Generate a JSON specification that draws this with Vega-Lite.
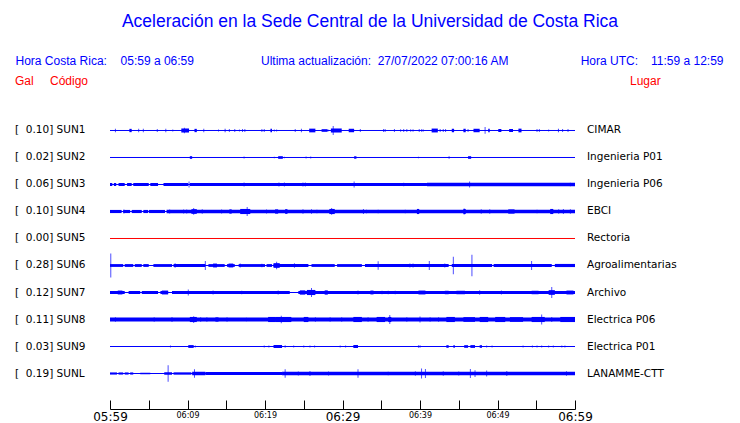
{
  "$schema": "https://vega.github.io/schema/vega-lite/v6.json",
  "width": 465,
  "height": 409,
  "autosize": {"type": "none"},
  "padding": {"left": 110, "top": 0, "right": 165, "bottom": 14},
  "background": "white",
  "config": {"view": {"stroke": null}, "font": "DejaVu Sans"},
  "resolve": {"axis": {"x": "independent", "y": "independent"}},
  "datasets": {
    "st": [
      {"s": "SUN1", "n": 1, "g": 0.10, "lugar": "CIMAR"},
      {"s": "SUN2", "n": 2, "g": 0.02, "lugar": "Ingenieria P01"},
      {"s": "SUN3", "n": 3, "g": 0.06, "lugar": "Ingenieria P06"},
      {"s": "SUN4", "n": 4, "g": 0.10, "lugar": "EBCI"},
      {"s": "SUN5", "n": 5, "g": 0.00, "lugar": "Rectoria"},
      {"s": "SUN6", "n": 6, "g": 0.28, "lugar": "Agroalimentarias"},
      {"s": "SUN7", "n": 7, "g": 0.12, "lugar": "Archivo"},
      {"s": "SUN8", "n": 8, "g": 0.11, "lugar": "Electrica P06"},
      {"s": "SUN9", "n": 9, "g": 0.03, "lugar": "Electrica P01"},
      {"s": "SUNL", "n": 10, "g": 0.19, "lugar": "LANAMME-CTT"}
    ],
    "bnd": [
      {"s": "SUN1", "t0": 0, "t1": 60, "a": 0},
      {"s": "SUN2", "t0": 0, "t1": 60, "a": 0},
      {"s": "SUN3", "t0": 0, "t1": 60, "a": 0},
      {"s": "SUN4", "t0": 0, "t1": 60, "a": 0},
      {"s": "SUN5", "t0": 0, "t1": 60, "a": 0},
      {"s": "SUN6", "t0": 0, "t1": 60, "a": 0},
      {"s": "SUN7", "t0": 0, "t1": 60, "a": 0},
      {"s": "SUN8", "t0": 0, "t1": 60, "a": 0},
      {"s": "SUN9", "t0": 0, "t1": 60, "a": 0},
      {"s": "SUNL", "t0": 0, "t1": 60, "a": 0},
      {"s": "SUN1", "t0": 2.5, "t1": 2.8, "a": 0.028},
      {"s": "SUN1", "t0": 9.2, "t1": 10.2, "a": 0.037},
      {"s": "SUN1", "t0": 10.9, "t1": 11.2, "a": 0.028},
      {"s": "SUN1", "t0": 14.8, "t1": 14.9, "a": 0.028},
      {"s": "SUN1", "t0": 20.7, "t1": 20.9, "a": 0.028},
      {"s": "SUN1", "t0": 25.7, "t1": 26.5, "a": 0.033},
      {"s": "SUN1", "t0": 27.3, "t1": 28.0, "a": 0.02},
      {"s": "SUN1", "t0": 28.5, "t1": 29.9, "a": 0.037},
      {"s": "SUN1", "t0": 30.8, "t1": 31.5, "a": 0.03},
      {"s": "SUN1", "t0": 41.5, "t1": 42.3, "a": 0.035},
      {"s": "SUN1", "t0": 44.1, "t1": 44.4, "a": 0.03},
      {"s": "SUN1", "t0": 45.6, "t1": 45.9, "a": 0.03},
      {"s": "SUN1", "t0": 46.9, "t1": 47.7, "a": 0.03},
      {"s": "SUN1", "t0": 48.8, "t1": 49.0, "a": 0.03},
      {"s": "SUN1", "t0": 50.1, "t1": 50.5, "a": 0.025},
      {"s": "SUN1", "t0": 51.5, "t1": 52.0, "a": 0.025},
      {"s": "SUN1", "t0": 52.7, "t1": 53.1, "a": 0.033},
      {"s": "SUN1", "t0": 57.8, "t1": 57.9, "a": 0.028},
      {"s": "SUN2", "t0": 10.3, "t1": 10.6, "a": 0.02},
      {"s": "SUN2", "t0": 21.7, "t1": 22.3, "a": 0.02},
      {"s": "SUN2", "t0": 31.5, "t1": 31.8, "a": 0.018},
      {"s": "SUN2", "t0": 43.7, "t1": 43.8, "a": 0.018},
      {"s": "SUN2", "t0": 46.2, "t1": 46.6, "a": 0.02},
      {"s": "SUN3", "t0": 0, "t1": 0.3, "a": 0.024},
      {"s": "SUN3", "t0": 0.5, "t1": 0.8, "a": 0.024},
      {"s": "SUN3", "t0": 1.1, "t1": 1.9, "a": 0.024},
      {"s": "SUN3", "t0": 2.2, "t1": 2.8, "a": 0.024},
      {"s": "SUN3", "t0": 3.0, "t1": 5.0, "a": 0.024},
      {"s": "SUN3", "t0": 5.2, "t1": 6.2, "a": 0.024},
      {"s": "SUN3", "t0": 6.9, "t1": 10.1, "a": 0.024},
      {"s": "SUN3", "t0": 10.3, "t1": 40.9, "a": 0.026},
      {"s": "SUN3", "t0": 40.9, "t1": 60, "a": 0.03},
      {"s": "SUN4", "t0": 0, "t1": 1.5, "a": 0.026},
      {"s": "SUN4", "t0": 1.7, "t1": 2.6, "a": 0.026},
      {"s": "SUN4", "t0": 2.8, "t1": 4.1, "a": 0.026},
      {"s": "SUN4", "t0": 4.3, "t1": 4.9, "a": 0.026},
      {"s": "SUN4", "t0": 5.0, "t1": 7.1, "a": 0.026},
      {"s": "SUN4", "t0": 7.3, "t1": 60, "a": 0.028},
      {"s": "SUN4", "t0": 10.5, "t1": 11.2, "a": 0.045},
      {"s": "SUN4", "t0": 15.4, "t1": 15.7, "a": 0.04},
      {"s": "SUN4", "t0": 16.8, "t1": 18.1, "a": 0.05},
      {"s": "SUN4", "t0": 21.3, "t1": 21.7, "a": 0.04},
      {"s": "SUN4", "t0": 22.6, "t1": 22.9, "a": 0.045},
      {"s": "SUN4", "t0": 28.3, "t1": 29.0, "a": 0.05},
      {"s": "SUN4", "t0": 39.6, "t1": 39.9, "a": 0.05},
      {"s": "SUN4", "t0": 45.6, "t1": 45.9, "a": 0.05},
      {"s": "SUN4", "t0": 51.4, "t1": 52.2, "a": 0.04},
      {"s": "SUN4", "t0": 56.8, "t1": 57.2, "a": 0.05},
      {"s": "SUN6", "t0": 0, "t1": 1.7, "a": 0.022},
      {"s": "SUN6", "t0": 1.9, "t1": 3.0, "a": 0.022},
      {"s": "SUN6", "t0": 3.2, "t1": 4.1, "a": 0.022},
      {"s": "SUN6", "t0": 4.3, "t1": 5.0, "a": 0.022},
      {"s": "SUN6", "t0": 5.6, "t1": 8.0, "a": 0.022},
      {"s": "SUN6", "t0": 8.2, "t1": 12.3, "a": 0.022},
      {"s": "SUN6", "t0": 12.7, "t1": 14.8, "a": 0.022},
      {"s": "SUN6", "t0": 15.1, "t1": 16.1, "a": 0.022},
      {"s": "SUN6", "t0": 16.6, "t1": 20.0, "a": 0.022},
      {"s": "SUN6", "t0": 20.2, "t1": 20.9, "a": 0.022},
      {"s": "SUN6", "t0": 21.1, "t1": 25.6, "a": 0.022},
      {"s": "SUN6", "t0": 26.0, "t1": 29.0, "a": 0.022},
      {"s": "SUN6", "t0": 29.3, "t1": 32.5, "a": 0.022},
      {"s": "SUN6", "t0": 32.9, "t1": 43.7, "a": 0.022},
      {"s": "SUN6", "t0": 44.1, "t1": 49.3, "a": 0.022},
      {"s": "SUN6", "t0": 49.5, "t1": 57.0, "a": 0.022},
      {"s": "SUN6", "t0": 57.4, "t1": 60, "a": 0.026},
      {"s": "SUN6", "t0": 13.3, "t1": 13.8, "a": 0.035},
      {"s": "SUN6", "t0": 15.3, "t1": 15.9, "a": 0.035},
      {"s": "SUN6", "t0": 21.1, "t1": 21.9, "a": 0.045},
      {"s": "SUN7", "t0": 0, "t1": 1.9, "a": 0.024},
      {"s": "SUN7", "t0": 2.4, "t1": 3.9, "a": 0.024},
      {"s": "SUN7", "t0": 4.1, "t1": 6.2, "a": 0.024},
      {"s": "SUN7", "t0": 6.5, "t1": 7.5, "a": 0.024},
      {"s": "SUN7", "t0": 8.0, "t1": 23.2, "a": 0.024},
      {"s": "SUN7", "t0": 24.3, "t1": 60, "a": 0.026},
      {"s": "SUN7", "t0": 1.0, "t1": 1.6, "a": 0.035},
      {"s": "SUN7", "t0": 6.7, "t1": 7.5, "a": 0.035},
      {"s": "SUN7", "t0": 24.5, "t1": 25.2, "a": 0.04},
      {"s": "SUN7", "t0": 25.4, "t1": 26.5, "a": 0.05},
      {"s": "SUN7", "t0": 27.7, "t1": 28.1, "a": 0.04},
      {"s": "SUN7", "t0": 33.6, "t1": 34.0, "a": 0.035},
      {"s": "SUN7", "t0": 39.8, "t1": 40.7, "a": 0.035},
      {"s": "SUN7", "t0": 43.2, "t1": 43.7, "a": 0.03},
      {"s": "SUN7", "t0": 44.7, "t1": 45.8, "a": 0.03},
      {"s": "SUN7", "t0": 54.4, "t1": 55.3, "a": 0.03},
      {"s": "SUN7", "t0": 56.6, "t1": 57.4, "a": 0.045},
      {"s": "SUN7", "t0": 58.9, "t1": 59.8, "a": 0.035},
      {"s": "SUN8", "t0": 0, "t1": 60, "a": 0.037},
      {"s": "SUN8", "t0": 10.3, "t1": 11.2, "a": 0.05},
      {"s": "SUN8", "t0": 13.6, "t1": 14.0, "a": 0.04},
      {"s": "SUN8", "t0": 20.4, "t1": 21.3, "a": 0.05},
      {"s": "SUN8", "t0": 21.3, "t1": 23.4, "a": 0.05},
      {"s": "SUN8", "t0": 25.0, "t1": 25.6, "a": 0.05},
      {"s": "SUN8", "t0": 31.4, "t1": 32.5, "a": 0.05},
      {"s": "SUN8", "t0": 34.4, "t1": 35.5, "a": 0.05},
      {"s": "SUN8", "t0": 35.9, "t1": 36.3, "a": 0.05},
      {"s": "SUN8", "t0": 43.4, "t1": 44.5, "a": 0.05},
      {"s": "SUN8", "t0": 45.6, "t1": 47.1, "a": 0.045},
      {"s": "SUN8", "t0": 47.7, "t1": 48.8, "a": 0.05},
      {"s": "SUN8", "t0": 49.7, "t1": 51.0, "a": 0.05},
      {"s": "SUN8", "t0": 51.6, "t1": 53.3, "a": 0.045},
      {"s": "SUN8", "t0": 54.4, "t1": 56.1, "a": 0.05},
      {"s": "SUN8", "t0": 58.1, "t1": 60, "a": 0.05},
      {"s": "SUN9", "t0": 10.1, "t1": 10.8, "a": 0.022},
      {"s": "SUN9", "t0": 21.1, "t1": 22.2, "a": 0.025},
      {"s": "SUN9", "t0": 31.4, "t1": 32.0, "a": 0.025},
      {"s": "SUN9", "t0": 43.4, "t1": 43.7, "a": 0.02},
      {"s": "SUN9", "t0": 44.3, "t1": 44.5, "a": 0.02},
      {"s": "SUN9", "t0": 45.7, "t1": 46.2, "a": 0.02},
      {"s": "SUN9", "t0": 46.5, "t1": 47.1, "a": 0.022},
      {"s": "SUN9", "t0": 47.7, "t1": 48.0, "a": 0.02},
      {"s": "SUNL", "t0": 0, "t1": 0.9, "a": 0.014},
      {"s": "SUNL", "t0": 1.1, "t1": 1.7, "a": 0.014},
      {"s": "SUNL", "t0": 1.9, "t1": 2.4, "a": 0.014},
      {"s": "SUNL", "t0": 2.6, "t1": 3.0, "a": 0.014},
      {"s": "SUNL", "t0": 3.9, "t1": 5.2, "a": 0.006},
      {"s": "SUNL", "t0": 7.0, "t1": 8.0, "a": 0.018},
      {"s": "SUNL", "t0": 8.2, "t1": 10.5, "a": 0.016},
      {"s": "SUNL", "t0": 10.6, "t1": 12.3, "a": 0.03},
      {"s": "SUNL", "t0": 12.3, "t1": 22.2, "a": 0.026},
      {"s": "SUNL", "t0": 22.2, "t1": 60, "a": 0.028}
    ],
    "spk": [
      {"s": "SUN1", "t": 0.7, "a": 0.028}, {"s": "SUN1", "t": 3.7, "a": 0.028}, {"s": "SUN1", "t": 4.3, "a": 0.028},
      {"s": "SUN1", "t": 6.1, "a": 0.022}, {"s": "SUN1", "t": 7.2, "a": 0.028}, {"s": "SUN1", "t": 8.1, "a": 0.012},
      {"s": "SUN1", "t": 9.6, "a": 0.053}, {"s": "SUN1", "t": 12.1, "a": 0.028}, {"s": "SUN1", "t": 14.0, "a": 0.012},
      {"s": "SUN1", "t": 15.4, "a": 0.022}, {"s": "SUN1", "t": 16.1, "a": 0.022}, {"s": "SUN1", "t": 16.7, "a": 0.012},
      {"s": "SUN1", "t": 17.1, "a": 0.022}, {"s": "SUN1", "t": 17.4, "a": 0.022}, {"s": "SUN1", "t": 19.6, "a": 0.022},
      {"s": "SUN1", "t": 19.9, "a": 0.022}, {"s": "SUN1", "t": 21.2, "a": 0.012}, {"s": "SUN1", "t": 21.5, "a": 0.012},
      {"s": "SUN1", "t": 23.9, "a": 0.022}, {"s": "SUN1", "t": 24.7, "a": 0.028}, {"s": "SUN1", "t": 28.1, "a": 0.022},
      {"s": "SUN1", "t": 28.8, "a": 0.10}, {"s": "SUN1", "t": 32.3, "a": 0.022}, {"s": "SUN1", "t": 35.3, "a": 0.022},
      {"s": "SUN1", "t": 35.5, "a": 0.022}, {"s": "SUN1", "t": 36.7, "a": 0.022}, {"s": "SUN1", "t": 37.5, "a": 0.016},
      {"s": "SUN1", "t": 37.9, "a": 0.022}, {"s": "SUN1", "t": 38.3, "a": 0.022}, {"s": "SUN1", "t": 38.8, "a": 0.016},
      {"s": "SUN1", "t": 39.1, "a": 0.016}, {"s": "SUN1", "t": 39.9, "a": 0.022}, {"s": "SUN1", "t": 40.2, "a": 0.016},
      {"s": "SUN1", "t": 40.4, "a": 0.016}, {"s": "SUN1", "t": 42.6, "a": 0.022}, {"s": "SUN1", "t": 43.0, "a": 0.022},
      {"s": "SUN1", "t": 43.3, "a": 0.022}, {"s": "SUN1", "t": 46.2, "a": 0.022}, {"s": "SUN1", "t": 48.4, "a": 0.07},
      {"s": "SUN1", "t": 55.1, "a": 0.022}, {"s": "SUN1", "t": 55.4, "a": 0.022}, {"s": "SUN1", "t": 56.6, "a": 0.012},
      {"s": "SUN1", "t": 58.4, "a": 0.022}, {"s": "SUN1", "t": 59.1, "a": 0.022},
      {"s": "SUN2", "t": 17.3, "a": 0.01}, {"s": "SUN2", "t": 21.2, "a": 0.006}, {"s": "SUN2", "t": 22.5, "a": 0.008},
      {"s": "SUN2", "t": 25.3, "a": 0.01}, {"s": "SUN2", "t": 25.9, "a": 0.01}, {"s": "SUN2", "t": 39.8, "a": 0.008},
      {"s": "SUN3", "t": 10.2, "a": 0.06}, {"s": "SUN3", "t": 17.3, "a": 0.035}, {"s": "SUN3", "t": 21.8, "a": 0.035},
      {"s": "SUN3", "t": 22.5, "a": 0.035}, {"s": "SUN3", "t": 24.9, "a": 0.035}, {"s": "SUN3", "t": 25.2, "a": 0.035},
      {"s": "SUN3", "t": 31.5, "a": 0.06}, {"s": "SUN3", "t": 37.9, "a": 0.03}, {"s": "SUN3", "t": 46.4, "a": 0.06},
      {"s": "SUN3", "t": 59.4, "a": 0.03},
      {"s": "SUN4", "t": 1.8, "a": 0.035}, {"s": "SUN4", "t": 7.7, "a": 0.035}, {"s": "SUN4", "t": 9.5, "a": 0.035},
      {"s": "SUN4", "t": 9.9, "a": 0.035}, {"s": "SUN4", "t": 10.8, "a": 0.07}, {"s": "SUN4", "t": 11.9, "a": 0.045},
      {"s": "SUN4", "t": 14.4, "a": 0.035}, {"s": "SUN4", "t": 17.7, "a": 0.10}, {"s": "SUN4", "t": 20.2, "a": 0.035},
      {"s": "SUN4", "t": 24.9, "a": 0.045}, {"s": "SUN4", "t": 26.0, "a": 0.04}, {"s": "SUN4", "t": 26.7, "a": 0.03},
      {"s": "SUN4", "t": 28.6, "a": 0.07}, {"s": "SUN4", "t": 32.7, "a": 0.05}, {"s": "SUN4", "t": 33.1, "a": 0.03},
      {"s": "SUN4", "t": 34.6, "a": 0.03}, {"s": "SUN4", "t": 36.8, "a": 0.025}, {"s": "SUN4", "t": 38.1, "a": 0.03},
      {"s": "SUN4", "t": 45.7, "a": 0.06}, {"s": "SUN4", "t": 47.9, "a": 0.045}, {"s": "SUN4", "t": 49.0, "a": 0.04},
      {"s": "SUN4", "t": 55.1, "a": 0.03}, {"s": "SUN4", "t": 57.9, "a": 0.04}, {"s": "SUN4", "t": 58.5, "a": 0.05},
      {"s": "SUN4", "t": 59.4, "a": 0.04},
      {"s": "SUN6", "t": 0.1, "a": 0.28}, {"s": "SUN6", "t": 8.4, "a": 0.04}, {"s": "SUN6", "t": 12.3, "a": 0.10},
      {"s": "SUN6", "t": 16.8, "a": 0.035}, {"s": "SUN6", "t": 19.6, "a": 0.03}, {"s": "SUN6", "t": 21.5, "a": 0.08},
      {"s": "SUN6", "t": 23.8, "a": 0.04}, {"s": "SUN6", "t": 34.6, "a": 0.09}, {"s": "SUN6", "t": 38.7, "a": 0.035},
      {"s": "SUN6", "t": 39.1, "a": 0.035}, {"s": "SUN6", "t": 41.2, "a": 0.10}, {"s": "SUN6", "t": 43.2, "a": 0.035},
      {"s": "SUN6", "t": 44.3, "a": 0.20}, {"s": "SUN6", "t": 46.7, "a": 0.25}, {"s": "SUN6", "t": 54.4, "a": 0.10},
      {"s": "SUN7", "t": 10.1, "a": 0.06}, {"s": "SUN7", "t": 13.3, "a": 0.035}, {"s": "SUN7", "t": 17.0, "a": 0.03},
      {"s": "SUN7", "t": 21.7, "a": 0.035}, {"s": "SUN7", "t": 26.0, "a": 0.10}, {"s": "SUN7", "t": 32.0, "a": 0.035},
      {"s": "SUN7", "t": 35.1, "a": 0.03}, {"s": "SUN7", "t": 35.9, "a": 0.03}, {"s": "SUN7", "t": 36.8, "a": 0.03},
      {"s": "SUN7", "t": 47.7, "a": 0.045}, {"s": "SUN7", "t": 50.5, "a": 0.035}, {"s": "SUN7", "t": 57.0, "a": 0.12},
      {"s": "SUN8", "t": 0.7, "a": 0.045}, {"s": "SUN8", "t": 5.7, "a": 0.045}, {"s": "SUN8", "t": 8.0, "a": 0.05},
      {"s": "SUN8", "t": 10.8, "a": 0.07}, {"s": "SUN8", "t": 11.7, "a": 0.04}, {"s": "SUN8", "t": 12.5, "a": 0.04},
      {"s": "SUN8", "t": 15.1, "a": 0.04}, {"s": "SUN8", "t": 17.6, "a": 0.03}, {"s": "SUN8", "t": 22.1, "a": 0.08},
      {"s": "SUN8", "t": 26.5, "a": 0.04}, {"s": "SUN8", "t": 28.4, "a": 0.04}, {"s": "SUN8", "t": 29.9, "a": 0.04},
      {"s": "SUN8", "t": 33.3, "a": 0.04}, {"s": "SUN8", "t": 36.1, "a": 0.10}, {"s": "SUN8", "t": 38.3, "a": 0.045},
      {"s": "SUN8", "t": 40.0, "a": 0.06}, {"s": "SUN8", "t": 41.3, "a": 0.04}, {"s": "SUN8", "t": 42.4, "a": 0.04},
      {"s": "SUN8", "t": 55.7, "a": 0.11}, {"s": "SUN8", "t": 57.0, "a": 0.05},
      {"s": "SUN9", "t": 7.8, "a": 0.012}, {"s": "SUN9", "t": 11.0, "a": 0.015}, {"s": "SUN9", "t": 19.9, "a": 0.012},
      {"s": "SUN9", "t": 20.5, "a": 0.015}, {"s": "SUN9", "t": 22.6, "a": 0.02}, {"s": "SUN9", "t": 23.7, "a": 0.012},
      {"s": "SUN9", "t": 25.0, "a": 0.015}, {"s": "SUN9", "t": 25.8, "a": 0.015}, {"s": "SUN9", "t": 26.4, "a": 0.015},
      {"s": "SUN9", "t": 29.7, "a": 0.012}, {"s": "SUN9", "t": 30.4, "a": 0.015}, {"s": "SUN9", "t": 39.8, "a": 0.02},
      {"s": "SUN9", "t": 40.0, "a": 0.02}, {"s": "SUN9", "t": 48.6, "a": 0.015}, {"s": "SUN9", "t": 49.3, "a": 0.015},
      {"s": "SUN9", "t": 53.3, "a": 0.012}, {"s": "SUN9", "t": 54.5, "a": 0.015}, {"s": "SUN9", "t": 55.1, "a": 0.015},
      {"s": "SUN9", "t": 55.7, "a": 0.015}, {"s": "SUN9", "t": 56.6, "a": 0.015}, {"s": "SUN9", "t": 57.2, "a": 0.015},
      {"s": "SUN9", "t": 58.3, "a": 0.015}, {"s": "SUN9", "t": 58.7, "a": 0.015},
      {"s": "SUNL", "t": 7.5, "a": 0.19}, {"s": "SUNL", "t": 10.9, "a": 0.09}, {"s": "SUNL", "t": 22.6, "a": 0.09},
      {"s": "SUNL", "t": 24.3, "a": 0.035}, {"s": "SUNL", "t": 25.8, "a": 0.05}, {"s": "SUNL", "t": 28.2, "a": 0.035},
      {"s": "SUNL", "t": 32.0, "a": 0.09}, {"s": "SUNL", "t": 35.9, "a": 0.03}, {"s": "SUNL", "t": 39.4, "a": 0.04},
      {"s": "SUNL", "t": 40.2, "a": 0.11}, {"s": "SUNL", "t": 40.7, "a": 0.10}, {"s": "SUNL", "t": 43.0, "a": 0.04},
      {"s": "SUNL", "t": 45.0, "a": 0.035}, {"s": "SUNL", "t": 46.5, "a": 0.10}, {"s": "SUNL", "t": 47.1, "a": 0.07},
      {"s": "SUNL", "t": 48.6, "a": 0.06}, {"s": "SUNL", "t": 51.2, "a": 0.05}, {"s": "SUNL", "t": 58.9, "a": 0.04}
    ]
  },
  "layer": [
    {
      "data": {"name": "bnd"},
      "transform": [{"lookup": "s", "from": {"data": {"name": "st"}, "key": "s", "fields": ["n"]}}],
      "mark": {"type": "rule", "strokeCap": "butt"},
      "encoding": {
        "x": {"field": "t0", "type": "quantitative", "scale": {"domain": [0, 60], "nice": false, "zero": false},
          "axis": {"title": null, "orient": "bottom", "domain": true, "values": [0, 5, 10, 15, 20, 25, 30, 35, 40, 45, 50, 55, 60], "grid": false,
            "tickSize": -9, "tickColor": "black", "domainColor": "black", "domainWidth": 1, "domainOpacity": 1, "labelColor": "black",
            "labelFont": "DejaVu Sans", "labelPadding": 11.5, "labelOverlap": false, "labelFlush": false,
            "labelFontSize": {"condition": {"test": "datum.value % 30 === 0", "value": 12}, "value": 8},
            "labelExpr": "datum.value % 10 === 0 ? timeFormat(datetime(2022, 6, 27, 5, 59 + datum.value), '%H:%M') : ''"}},
        "x2": {"field": "t1"},
        "y": {"field": "n", "type": "quantitative", "scale": {"domain": [-3.8333, 11.3148], "reverse": true, "nice": false, "zero": false}, "axis": null},
        "strokeWidth": {"field": "a", "type": "quantitative", "scale": {"domain": [0, 0.28], "range": [1, 24]}, "legend": null},
        "color": {"condition": {"test": "datum.s === 'SUN5'", "value": "#ff0000"}, "value": "#0000ff"}
      }
    },
    {
      "data": {"name": "spk"},
      "transform": [{"lookup": "s", "from": {"data": {"name": "st"}, "key": "s", "fields": ["n"]}}],
      "mark": {"type": "tick", "orient": "vertical", "thickness": 1},
      "encoding": {
        "x": {"field": "t", "type": "quantitative", "scale": {"domain": [0, 60], "nice": false, "zero": false}, "axis": null},
        "y": {"field": "n", "type": "quantitative", "scale": {"domain": [-3.8333, 11.3148], "reverse": true, "nice": false, "zero": false}, "axis": null},
        "size": {"field": "a", "type": "quantitative", "scale": {"domain": [0, 0.28], "range": [1, 24]}, "legend": null},
        "color": {"value": "#0000ff"}
      }
    },
    {
      "data": {"name": "st"},
      "transform": [{"calculate": "'[\u00a0\u00a0' + format(datum.g, '.2f') + '] ' + datum.s", "as": "label"}],
      "mark": {"type": "text", "align": "left", "baseline": "middle", "font": "DejaVu Sans", "fontSize": 10.5, "color": "black"},
      "encoding": {
        "x": {"datum": -12.26, "type": "quantitative", "scale": {"domain": [0, 60], "nice": false, "zero": false}, "axis": null},
        "y": {"field": "n", "type": "quantitative", "scale": {"domain": [-3.8333, 11.3148], "reverse": true, "nice": false, "zero": false}, "axis": null},
        "text": {"field": "label"}
      }
    },
    {
      "data": {"name": "st"},
      "mark": {"type": "text", "align": "left", "baseline": "middle", "font": "DejaVu Sans", "fontSize": 10.5, "color": "black"},
      "encoding": {
        "x": {"datum": 61.55, "type": "quantitative", "scale": {"domain": [0, 60], "nice": false, "zero": false}, "axis": null},
        "y": {"field": "n", "type": "quantitative", "scale": {"domain": [-3.8333, 11.3148], "reverse": true, "nice": false, "zero": false}, "axis": null},
        "text": {"field": "lugar"}
      }
    },
    {
      "data": {"values": [{}]},
      "mark": {"type": "text", "text": "Aceleración en la Sede Central de la Universidad de Costa Rica", "align": "center", "baseline": "middle", "font": "Liberation Sans", "fontSize": 17.5, "color": "#0000ff"},
      "encoding": {
        "x": {"datum": 33.55, "type": "quantitative", "scale": {"domain": [0, 60], "nice": false, "zero": false}, "axis": null},
        "y": {"datum": -3.0, "type": "quantitative", "scale": {"domain": [-3.8333, 11.3148], "reverse": true, "nice": false, "zero": false}, "axis": null}
      }
    },
    {
      "data": {"values": [{}]},
      "mark": {"type": "text", "text": "Hora Costa Rica:", "align": "left", "baseline": "middle", "font": "Liberation Sans", "fontSize": 12, "color": "#0000ff"},
      "encoding": {
        "x": {"datum": -12.19, "type": "quantitative", "scale": {"domain": [0, 60], "nice": false, "zero": false}, "axis": null},
        "y": {"datum": -1.556, "type": "quantitative", "scale": {"domain": [-3.8333, 11.3148], "reverse": true, "nice": false, "zero": false}, "axis": null}
      }
    },
    {
      "data": {"values": [{}]},
      "mark": {"type": "text", "text": "05:59 a 06:59", "align": "left", "baseline": "middle", "font": "Liberation Sans", "fontSize": 12, "color": "#0000ff"},
      "encoding": {
        "x": {"datum": 1.36, "type": "quantitative", "scale": {"domain": [0, 60], "nice": false, "zero": false}, "axis": null},
        "y": {"datum": -1.556, "type": "quantitative", "scale": {"domain": [-3.8333, 11.3148], "reverse": true, "nice": false, "zero": false}, "axis": null}
      }
    },
    {
      "data": {"values": [{}]},
      "mark": {"type": "text", "text": "Ultima actualización:\u00a0\u00a027/07/2022 07:00:16 AM", "align": "left", "baseline": "middle", "font": "Liberation Sans", "fontSize": 12, "color": "#0000ff"},
      "encoding": {
        "x": {"datum": 19.48, "type": "quantitative", "scale": {"domain": [0, 60], "nice": false, "zero": false}, "axis": null},
        "y": {"datum": -1.556, "type": "quantitative", "scale": {"domain": [-3.8333, 11.3148], "reverse": true, "nice": false, "zero": false}, "axis": null}
      }
    },
    {
      "data": {"values": [{}]},
      "mark": {"type": "text", "text": "Hora UTC:", "align": "left", "baseline": "middle", "font": "Liberation Sans", "fontSize": 12, "color": "#0000ff"},
      "encoding": {
        "x": {"datum": 60.73, "type": "quantitative", "scale": {"domain": [0, 60], "nice": false, "zero": false}, "axis": null},
        "y": {"datum": -1.556, "type": "quantitative", "scale": {"domain": [-3.8333, 11.3148], "reverse": true, "nice": false, "zero": false}, "axis": null}
      }
    },
    {
      "data": {"values": [{}]},
      "mark": {"type": "text", "text": "11:59 a 12:59", "align": "left", "baseline": "middle", "font": "Liberation Sans", "fontSize": 12, "color": "#0000ff"},
      "encoding": {
        "x": {"datum": 69.81, "type": "quantitative", "scale": {"domain": [0, 60], "nice": false, "zero": false}, "axis": null},
        "y": {"datum": -1.556, "type": "quantitative", "scale": {"domain": [-3.8333, 11.3148], "reverse": true, "nice": false, "zero": false}, "axis": null}
      }
    },
    {
      "data": {"values": [{}]},
      "mark": {"type": "text", "text": "Gal", "align": "left", "baseline": "middle", "font": "Liberation Sans", "fontSize": 12, "color": "#ff0000"},
      "encoding": {
        "x": {"datum": -12.26, "type": "quantitative", "scale": {"domain": [0, 60], "nice": false, "zero": false}, "axis": null},
        "y": {"datum": -0.815, "type": "quantitative", "scale": {"domain": [-3.8333, 11.3148], "reverse": true, "nice": false, "zero": false}, "axis": null}
      }
    },
    {
      "data": {"values": [{}]},
      "mark": {"type": "text", "text": "Código", "align": "left", "baseline": "middle", "font": "Liberation Sans", "fontSize": 12, "color": "#ff0000"},
      "encoding": {
        "x": {"datum": -7.74, "type": "quantitative", "scale": {"domain": [0, 60], "nice": false, "zero": false}, "axis": null},
        "y": {"datum": -0.815, "type": "quantitative", "scale": {"domain": [-3.8333, 11.3148], "reverse": true, "nice": false, "zero": false}, "axis": null}
      }
    },
    {
      "data": {"values": [{}]},
      "mark": {"type": "text", "text": "Lugar", "align": "left", "baseline": "middle", "font": "Liberation Sans", "fontSize": 12, "color": "#ff0000"},
      "encoding": {
        "x": {"datum": 67.1, "type": "quantitative", "scale": {"domain": [0, 60], "nice": false, "zero": false}, "axis": null},
        "y": {"datum": -0.815, "type": "quantitative", "scale": {"domain": [-3.8333, 11.3148], "reverse": true, "nice": false, "zero": false}, "axis": null}
      }
    }
  ]
}
